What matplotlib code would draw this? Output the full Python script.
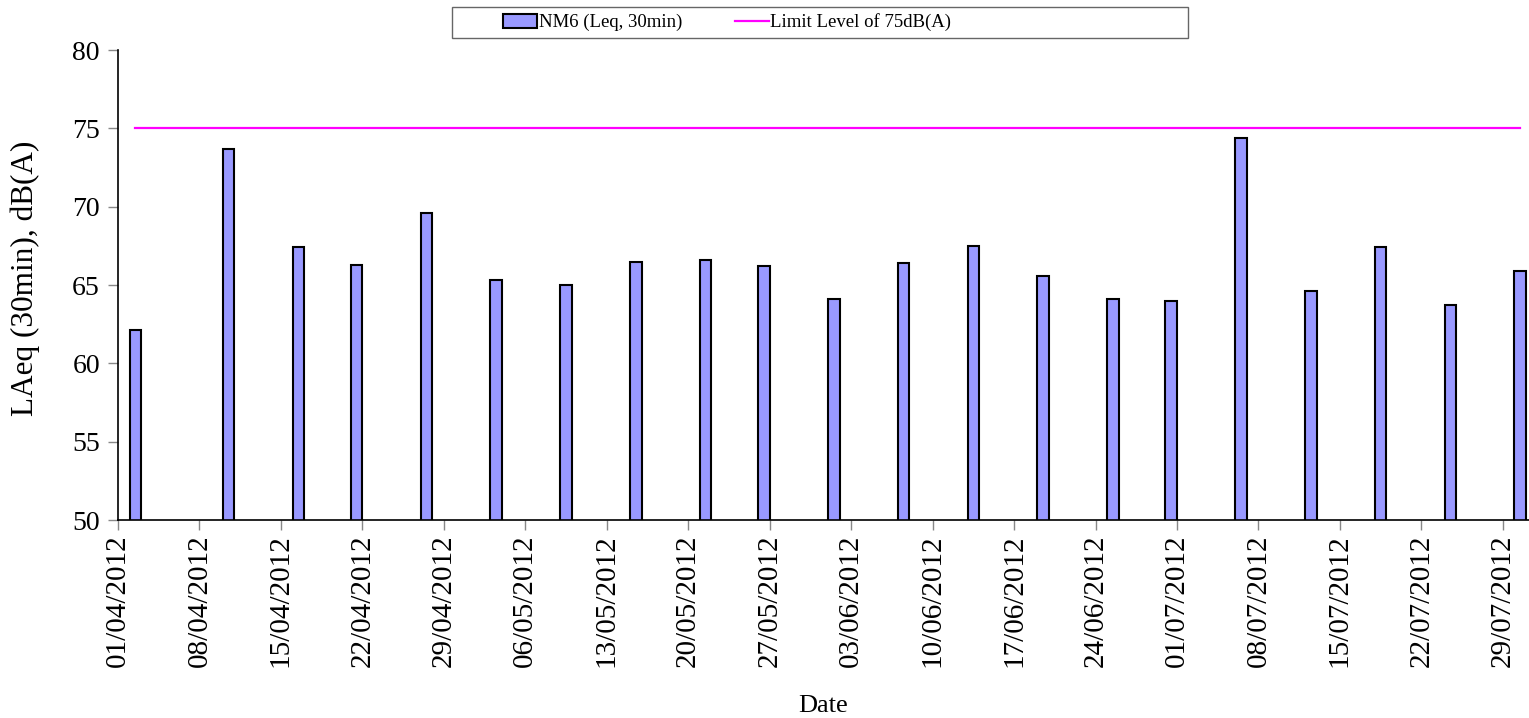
import datetime as dt
import matplotlib
matplotlib.use("Agg")
import matplotlib.pyplot as plt
import matplotlib.dates as mdates
from matplotlib.patches import Rectangle

plt.rcParams['font.family'] = ['Liberation Serif', 'DejaVu Serif']

# measurement dates and LAeq (30min) values
dates = ['02/04/2012', '10/04/2012', '16/04/2012', '21/04/2012', '27/04/2012',
         '03/05/2012', '09/05/2012', '15/05/2012', '21/05/2012', '26/05/2012',
         '01/06/2012', '07/06/2012', '13/06/2012', '19/06/2012', '25/06/2012',
         '30/06/2012', '06/07/2012', '12/07/2012', '18/07/2012', '24/07/2012',
         '30/07/2012']
levels = [62.1, 73.7, 67.4, 66.3, 69.6,
          65.3, 65.0, 66.5, 66.6, 66.2,
          64.1, 66.4, 67.5, 65.6, 64.1,
          64.0, 74.4, 64.6, 67.4, 63.7,
          65.9]
limit = 75

days = [dt.datetime.strptime(d, '%d/%m/%Y') for d in dates]
start = dt.datetime(2012, 4, 1)
ticks = [start + dt.timedelta(days=7 * i) for i in range(18)]

fig = plt.figure(figsize=(15.29, 7.18), dpi=100)
ax = fig.add_axes([118 / 1529, 1 - 520 / 718, 1 - 118 / 1529, 470 / 718])

bars = ax.bar(days, levels, width=1, align='edge', color='#9999FF',
              edgecolor='black', linewidth=1.5, label='NM6 (Leq, 30min)')
half = dt.timedelta(hours=12)
line, = ax.plot([days[0] + half, days[-1] + half], [limit, limit],
                color='#FF00FF', linewidth=1.6, label='Limit Level of 75dB(A)')

ax.set_ylim(50, 80)
ax.set_yticks(range(50, 81, 5))
ax.set_xlim(start, start + dt.timedelta(days=121.25))
ax.set_xticks(ticks)
ax.xaxis.set_major_formatter(mdates.DateFormatter('%d/%m/%Y'))

for s in ['top', 'right']:
    ax.spines[s].set_visible(False)
ax.spines['left'].set_linewidth(1.2)
ax.spines['bottom'].set_linewidth(1.2)
ax.tick_params(axis='both', direction='out', length=7, width=1,
               color='#888888', labelsize=20)
ax.tick_params(axis='x', labelsize=21, labelrotation=90)
ax.tick_params(axis='y', pad=6)

ax.set_xlabel('Date', fontsize=19, labelpad=20)
ax.set_ylabel('LAeq (30min), dB(A)', fontsize=22.5)
ax.yaxis.set_label_coords(-0.055, 0.515)

# legend box is wider than its content, like the original
fig.patches.append(Rectangle((452 / 1529, 1 - 38 / 718), 736 / 1529, 31 / 718,
                             transform=fig.transFigure, fill=False,
                             edgecolor='#666666', linewidth=1))
leg = fig.legend(handles=[bars, line], ncol=2, loc='center left',
                 bbox_to_anchor=(494 / 1529, 1 - 22.5 / 718),
                 fontsize=13.5, frameon=False, handlelength=1.8,
                 handleheight=0.8, handletextpad=0.1, columnspacing=2.8,
                 borderpad=0)

fig.savefig('out.png', dpi=100)
